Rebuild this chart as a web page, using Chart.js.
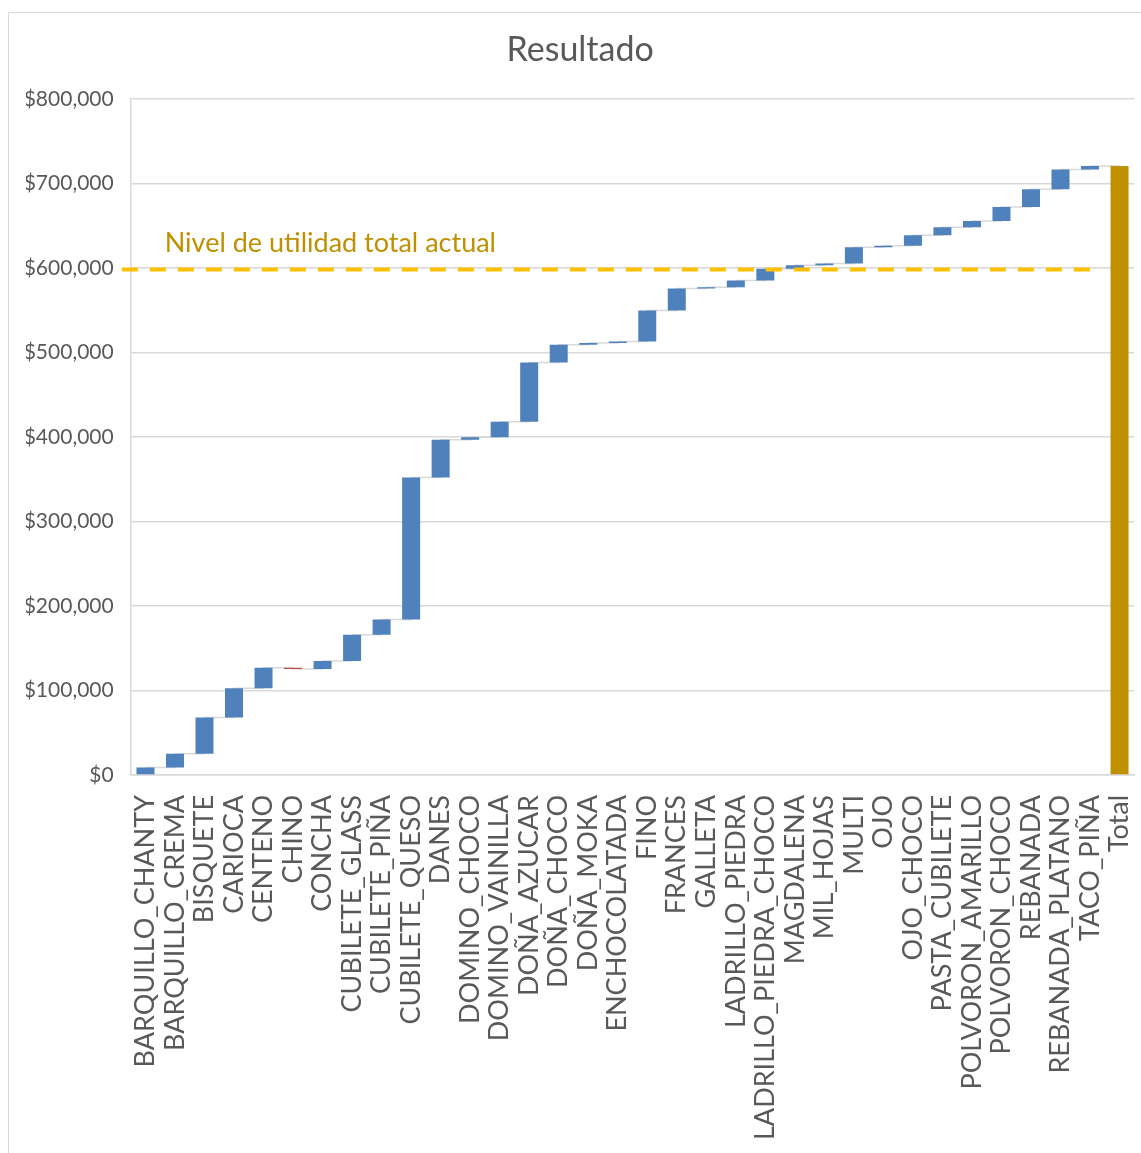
<!DOCTYPE html>
<html>
<head>
<meta charset="utf-8">
<title>Resultado</title>
<script src="https://cdn.jsdelivr.net/npm/chart.js@4.4.1/dist/chart.umd.min.js"></script>
<style>
  html, body { margin: 0; padding: 0; background: #ffffff; overflow: hidden; }
  #marco { position: absolute; left: 8px; top: 12px; width: 1160px; height: 1160px; border: 1px solid #D9D9D9; }
  #grafico { position: absolute; left: 0; top: 0; }
</style>
</head>
<body>
<div id="marco"><canvas id="grafico" width="1132" height="1140" style="width:1132px;height:1140px"></canvas></div>
<script>
// Productos (en orden del eje) y su aporte a la utilidad
const categorias = [
  'BARQUILLO_CHANTY', 'BARQUILLO_CREMA', 'BISQUETE', 'CARIOCA', 'CENTENO', 'CHINO',
  'CONCHA', 'CUBILETE_GLASS', 'CUBILETE_PIÑA', 'CUBILETE_QUESO', 'DANES',
  'DOMINO_CHOCO', 'DOMINO_VAINILLA', 'DOÑA_AZUCAR', 'DOÑA_CHOCO', 'DOÑA_MOKA',
  'ENCHOCOLATADA', 'FINO', 'FRANCES', 'GALLETA', 'LADRILLO_PIEDRA',
  'LADRILLO_PIEDRA_CHOCO', 'MAGDALENA', 'MIL_HOJAS', 'MULTI', 'OJO', 'OJO_CHOCO',
  'PASTA_CUBILETE', 'POLVORON_AMARILLO', 'POLVORON_CHOCO', 'REBANADA',
  'REBANADA_PLATANO', 'TACO_PIÑA'
];
const etiquetaTotal = 'Total';
const utilidad = [
  9000, 16000, 43000, 34500, 24500, -1500,
  9500, 31000, 18000, 168000, 44500,
  3000, 18500, 70000, 21000, 2000,
  2000, 36500, 26000, 1500, 8000,
  14000, 4000, 2000, 19500, 1500, 12500,
  9500, 7500, 16500, 21000,
  23500, 4000
];
const nivelActual = 598000;
const etiquetaNivel = 'Nivel de utilidad total actual';
const ticksY = [0, 100000, 200000, 300000, 400000, 500000, 600000, 700000, 800000];

// Colores
const AZUL = '#4F81BD', ROJO = '#C0504D', DORADO = '#BF9000', AMARILLO = '#FFC000';
const GRIS_TEXTO = '#595959', GRIS_LINEA = '#D9D9D9';
const FUENTE = 'Lato';

// Barras flotantes de la cascada: [inicio, fin] acumulados
const etiquetas = categorias.concat([etiquetaTotal]);
const tramos = [];
const acumulado = [];
let suma = 0;
utilidad.forEach(v => {
  tramos.push([suma, suma + v]);
  suma += v;
  acumulado.push(suma);
});
tramos.push([0, suma]);
acumulado.push(suma);
const coloresBarras = utilidad.map(v => (v < 0 ? ROJO : AZUL)).concat([DORADO]);

// Texto de la línea de referencia
const textoNivel = {
  id: 'textoNivel',
  afterDatasetsDraw(chart) {
    const { ctx, chartArea, scales } = chart;
    const y = scales.y.getPixelForValue(nivelActual);
    ctx.save();
    ctx.font = '27px ' + FUENTE;
    ctx.fillStyle = DORADO;
    ctx.textAlign = 'left';
    ctx.textBaseline = 'alphabetic';
    ctx.fillText(etiquetaNivel, chartArea.left + 34, y - 17.5);
    ctx.restore();
  }
};

new Chart(document.getElementById('grafico'), {
  type: 'bar',
  data: {
    labels: etiquetas,
    datasets: [
      {
        type: 'line',
        label: 'nivel',
        xAxisID: 'xl',
        data: [{ x: -0.8, y: nivelActual }, { x: categorias.length - 1, y: nivelActual }],
        borderColor: AMARILLO,
        borderWidth: 4,
        borderDash: [16, 12],
        pointRadius: 0,
        clip: false,
        order: 0
      },
      {
        type: 'bar',
        label: 'utilidad',
        xAxisID: 'x',
        data: tramos,
        backgroundColor: coloresBarras,
        borderWidth: 0,
        grouped: false,
        barPercentage: 0.61,
        categoryPercentage: 1,
        order: 1
      },
      {
        type: 'line',
        label: 'conectores',
        xAxisID: 'x',
        data: acumulado,
        stepped: 'before',
        borderColor: GRIS_LINEA,
        borderWidth: 1.5,
        pointRadius: 0,
        order: 2
      }
    ]
  },
  options: {
    responsive: false,
    animation: false,
    layout: { padding: { left: 17, right: 6.7, top: 0, bottom: 0 } },
    plugins: {
      legend: { display: false },
      tooltip: { enabled: false },
      title: {
        display: true,
        text: 'Resultado',
        color: GRIS_TEXTO,
        font: { family: FUENTE, size: 34, weight: 'normal' },
        padding: { top: 17, bottom: 28 }
      }
    },
    scales: {
      x: {
        type: 'category',
        offset: true,
        grid: { display: false, drawTicks: false },
        border: { display: true, color: GRIS_LINEA, width: 1.5 },
        ticks: {
          autoSkip: false,
          minRotation: 90,
          maxRotation: 90,
          padding: 20,
          color: GRIS_TEXTO,
          font: { family: FUENTE, size: 27 }
        },
        afterFit(s) { s.height = 378; s.paddingLeft = 0; s.paddingRight = 0; }
      },
      xl: {
        type: 'linear',
        display: false,
        offset: false,
        grid: { offset: false },
        min: -0.5,
        max: etiquetas.length - 0.5
      },
      y: {
        min: 0,
        max: 800000,
        grid: { color: GRIS_LINEA, lineWidth: 1.5, drawTicks: false },
        border: { display: true, color: GRIS_LINEA, width: 1.5 },
        afterBuildTicks(s) { s.ticks = ticksY.map(v => ({ value: v })); },
        ticks: {
          padding: 17,
          color: GRIS_TEXTO,
          font: { family: FUENTE, size: 21 },
          callback: v => '$' + Number(v).toLocaleString('en-US')
        },
        afterFit(s) { s.width = 104.7; }
      }
    }
  },
  plugins: [textoNivel]
});
</script>
</body>
</html>
